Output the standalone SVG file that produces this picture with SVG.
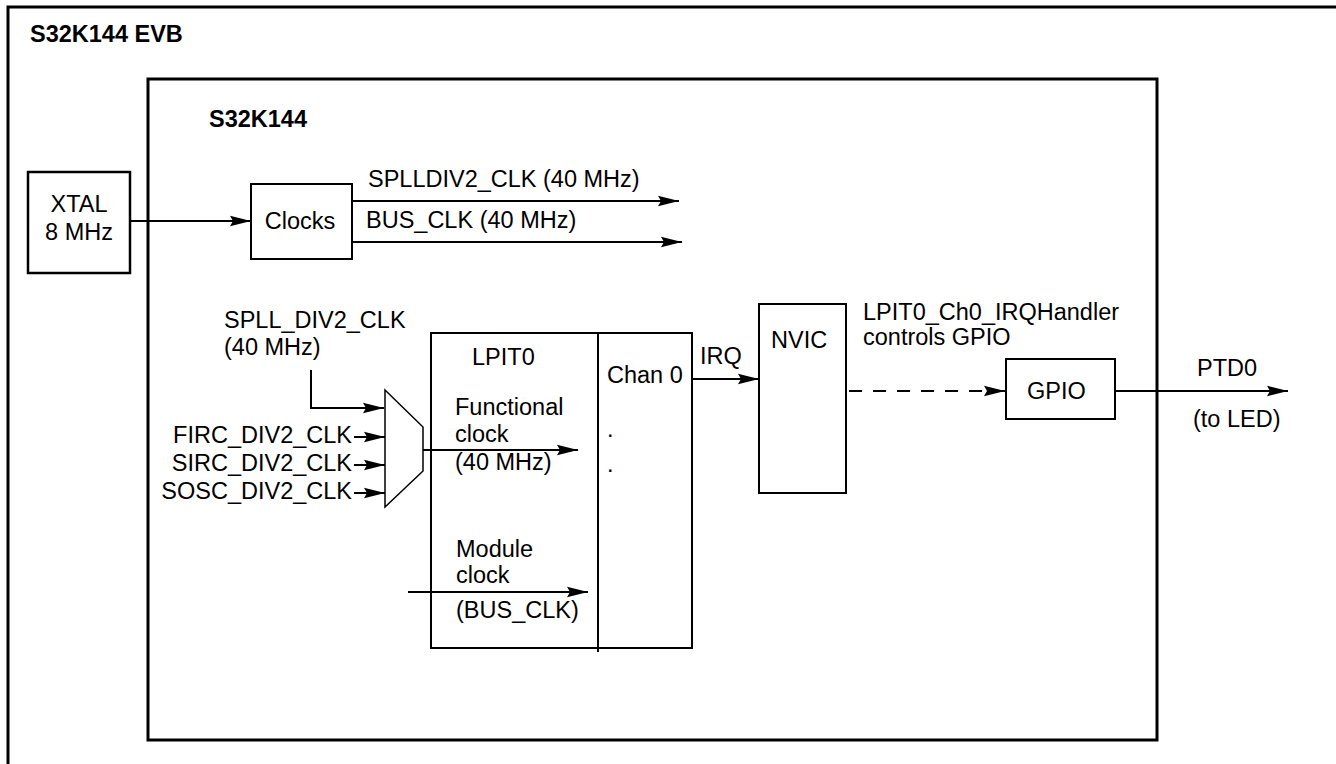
<svg xmlns="http://www.w3.org/2000/svg" width="1336" height="764" viewBox="0 0 1336 764">
<style>
text{font-family:"Liberation Sans",Arial,Helvetica,sans-serif;font-size:23.5px;fill:#000}
.b{font-weight:bold}
.thick{fill:none;stroke:#000;stroke-width:3}
.box{fill:#fff;stroke:#000;stroke-width:2}
.ln{fill:none;stroke:#000;stroke-width:2}
.dash{fill:none;stroke:#000;stroke-width:2;stroke-dasharray:13 11}
</style>
<defs>
<marker id="ah" markerWidth="22" markerHeight="12" refX="21" refY="6" orient="auto" markerUnits="userSpaceOnUse">
<path d="M0,0.8 L21,6 L0,11.2 L3,6 Z" fill="#000"/>
</marker>
</defs>
<rect width="1336" height="764" fill="#fff"/>
<g id="evb">
<path class="thick" d="M8,764 V7 H1336"/>
<text class="b" x="30" y="42">S32K144 EVB</text>
</g>
<g id="s32k144">
<rect class="thick" x="148" y="79" width="1009" height="661"/>
<text class="b" x="209" y="127">S32K144</text>
</g>
<g id="xtal">
<rect class="thick" x="28" y="172" width="102" height="101" style="stroke-width:2.5"/>
<text x="79" y="212" text-anchor="middle">XTAL</text>
<text x="79" y="240" text-anchor="middle">8 MHz</text>
</g>
<g id="clocks">
<rect class="box" x="251" y="184" width="101" height="75"/>
<text x="300" y="229" text-anchor="middle">Clocks</text>
</g>
<g id="mux">
<path class="box" d="M385,390 L423,427 L423,471 L385,507 Z" style="stroke-width:1.5"/>
</g>
<g id="lpit0">
<rect class="box" x="431" y="333" width="261" height="315"/>
<line class="ln" x1="598" y1="333" x2="598" y2="652"/>
<text x="472" y="365">LPIT0</text>
<text x="607" y="383">Chan 0</text>
<text x="607" y="437">.</text>
<text x="607" y="472">.</text>
</g>
<g id="nvic">
<rect class="box" x="759" y="304" width="87" height="189"/>
<text x="771" y="348">NVIC</text>
</g>
<g id="gpio">
<rect class="box" x="1006" y="359" width="109" height="60"/>
<text x="1027" y="399">GPIO</text>
</g>
<g id="connectors">
<line class="ln" x1="130" y1="221" x2="251" y2="221" marker-end="url(#ah)"/>
<line class="ln" x1="352" y1="201" x2="679" y2="201" marker-end="url(#ah)"/>
<line class="ln" x1="352" y1="242" x2="682" y2="242" marker-end="url(#ah)"/>
<path class="ln" d="M311,370 V408 H384" marker-end="url(#ah)"/>
<line class="ln" x1="354" y1="437" x2="385" y2="437" marker-end="url(#ah)"/>
<line class="ln" x1="354" y1="465" x2="385" y2="465" marker-end="url(#ah)"/>
<line class="ln" x1="354" y1="493" x2="385" y2="493" marker-end="url(#ah)"/>
<line class="ln" x1="423" y1="450" x2="578" y2="450" marker-end="url(#ah)"/>
<line class="ln" x1="408" y1="592" x2="588" y2="592" marker-end="url(#ah)"/>
<line class="ln" x1="692" y1="379" x2="759" y2="379" marker-end="url(#ah)"/>
<line class="dash" x1="849" y1="391" x2="1005" y2="391" marker-end="url(#ah)"/>
<line class="ln" x1="1115" y1="391" x2="1288" y2="391" marker-end="url(#ah)"/>
</g>
<g id="labels">
<text x="368" y="187">SPLLDIV2_CLK (40 MHz)</text>
<text x="366" y="228">BUS_CLK (40 MHz)</text>
<text x="224" y="328">SPLL_DIV2_CLK</text>
<text x="224" y="355">(40 MHz)</text>
<text x="352" y="443" text-anchor="end">FIRC_DIV2_CLK</text>
<text x="352" y="471" text-anchor="end">SIRC_DIV2_CLK</text>
<text x="352" y="499" text-anchor="end">SOSC_DIV2_CLK</text>
<text x="455" y="415">Functional</text>
<text x="455" y="442">clock</text>
<text x="455" y="470">(40 MHz)</text>
<text x="456" y="557">Module</text>
<text x="456" y="583">clock</text>
<text x="456" y="618">(BUS_CLK)</text>
<text x="700" y="364">IRQ</text>
<text x="863" y="320">LPIT0_Ch0_IRQHandler</text>
<text x="863" y="345">controls GPIO</text>
<text x="1197" y="376">PTD0</text>
<text x="1193" y="427">(to LED)</text>
</g>
</svg>
